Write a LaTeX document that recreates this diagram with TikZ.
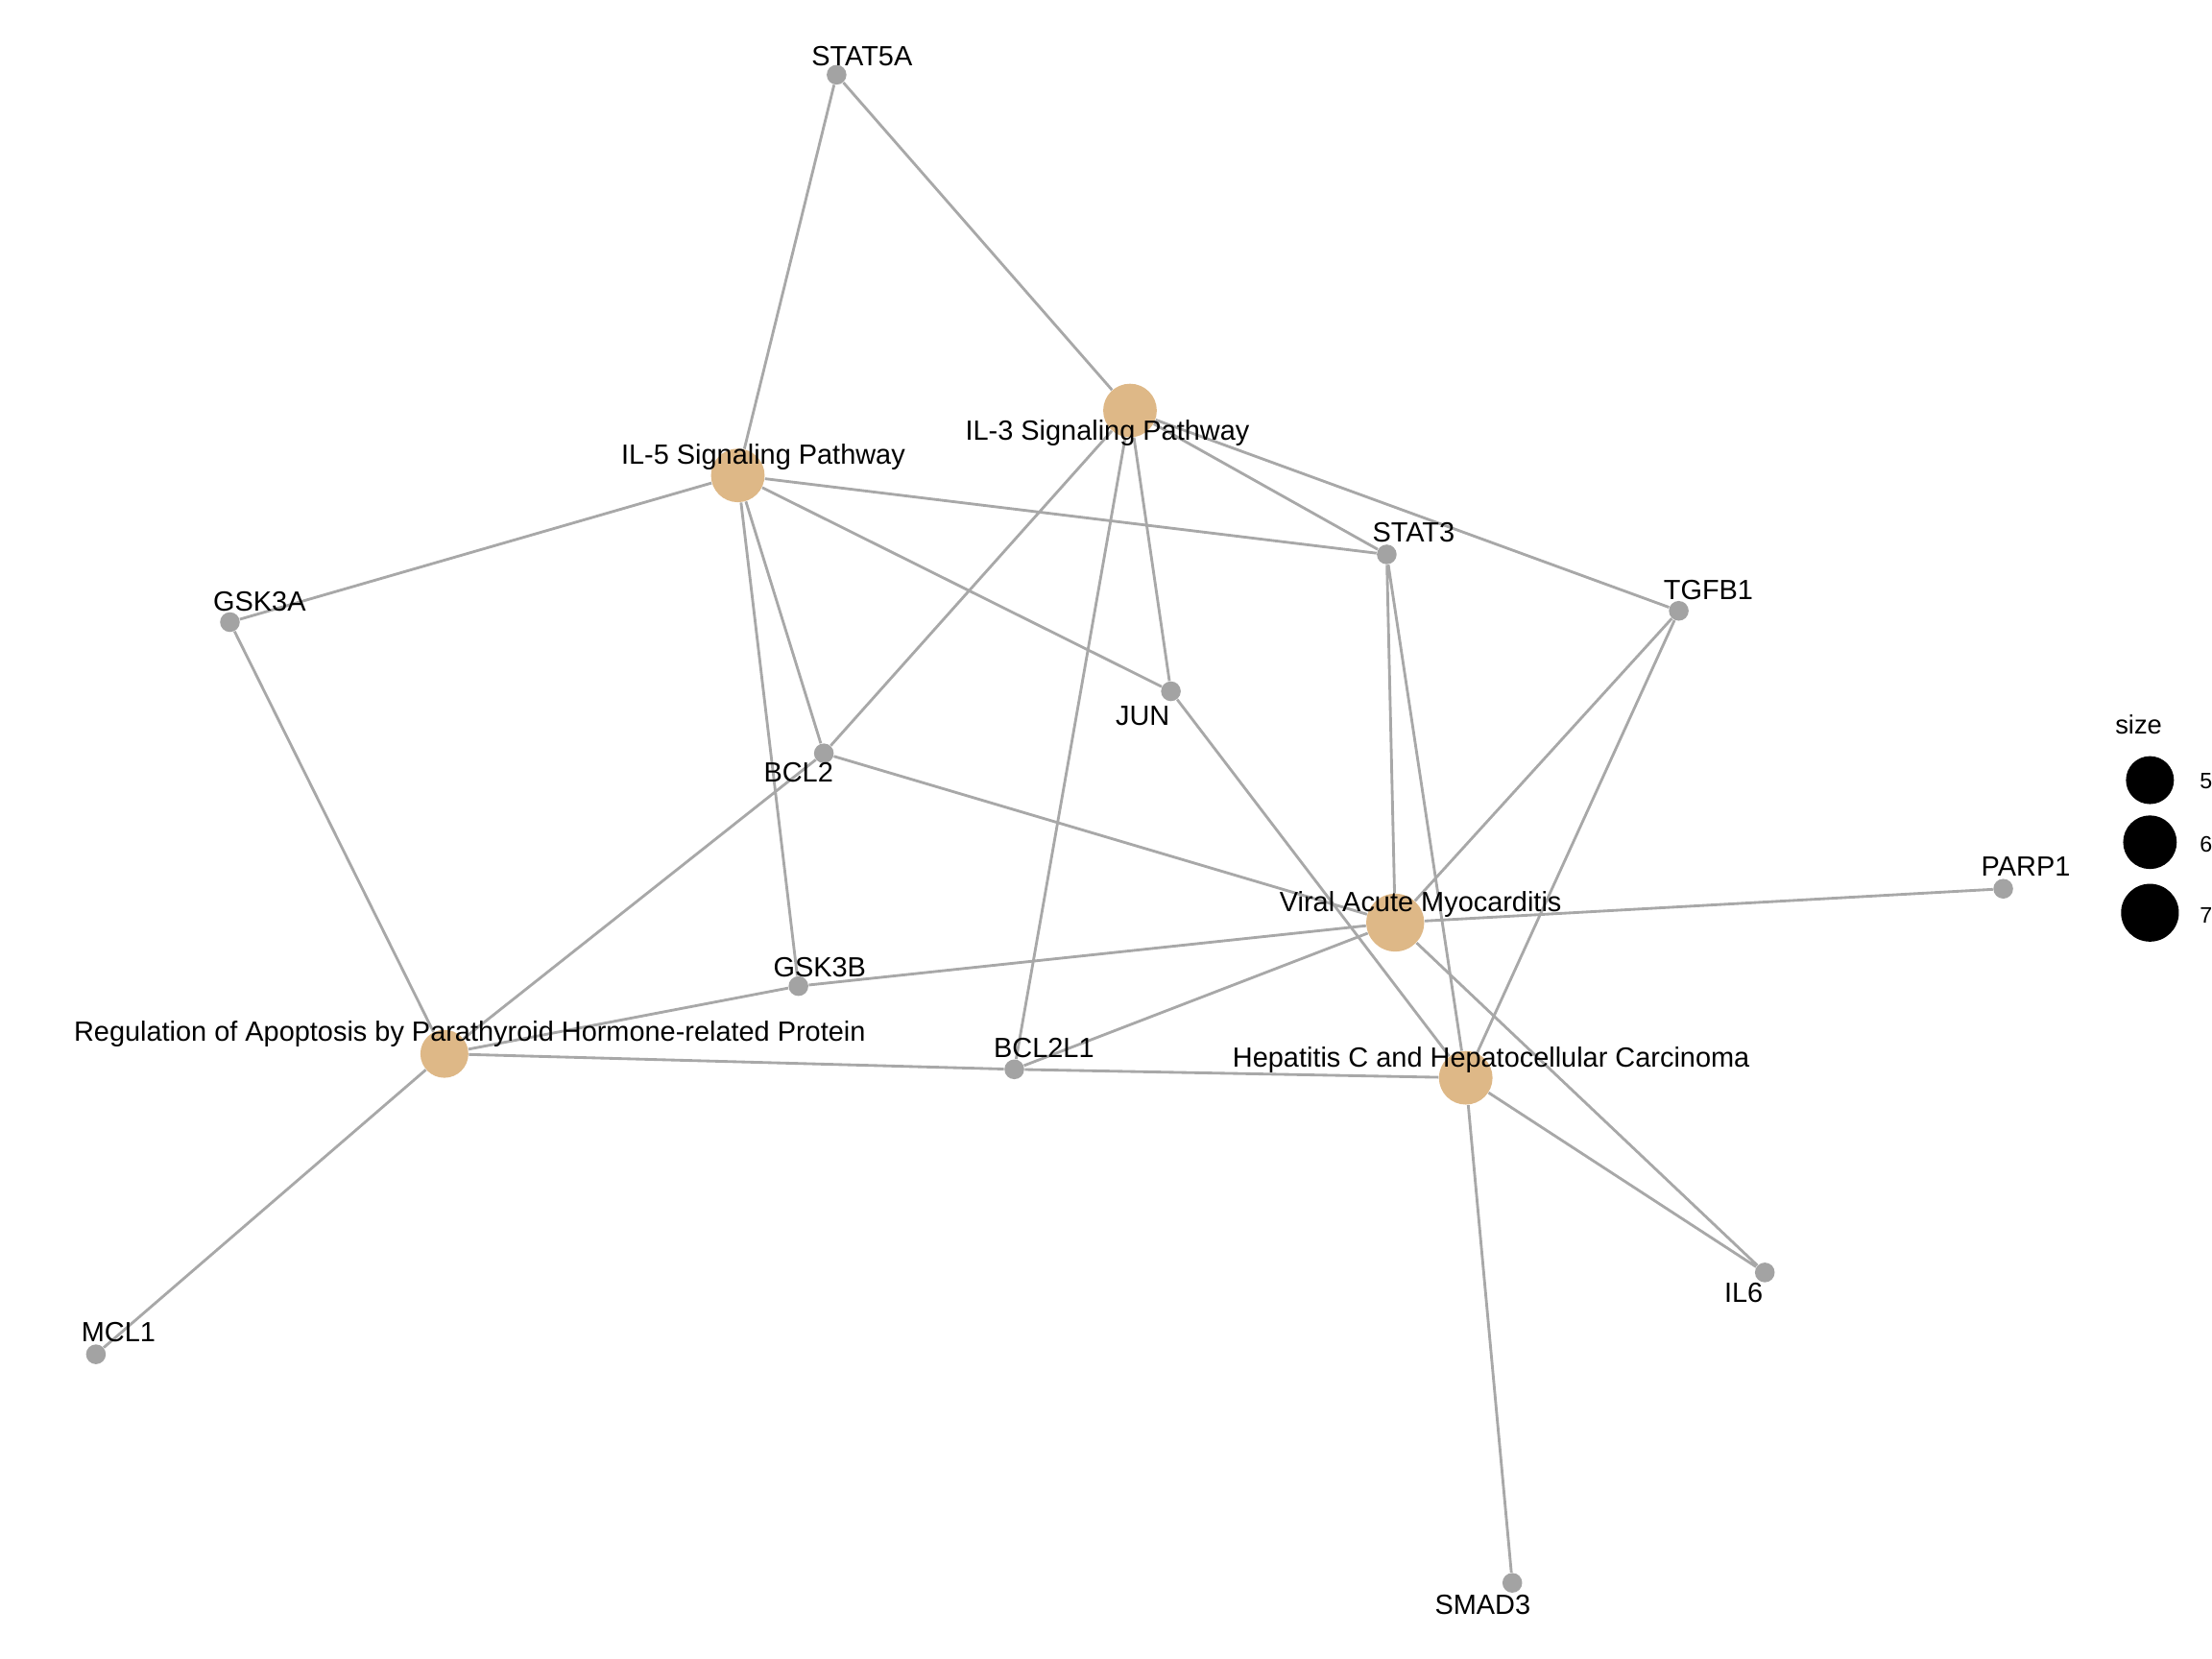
\documentclass[tikz,border=0pt]{standalone}
\usepackage{fontspec}
\setmainfont{Liberation Sans}
\usetikzlibrary{backgrounds}
\definecolor{pathtan}{HTML}{DEB887}
\definecolor{genegrey}{HTML}{A3A3A3}
\definecolor{edgegrey}{HTML}{A8A8A8}

\begin{document}
\begin{tikzpicture}[x=0.02cm,y=-0.02cm]
  \tikzstyle{gene}=[circle,fill=genegrey,inner sep=0pt,minimum size=0.28cm]
  \tikzstyle{size5}=[circle,fill=pathtan,inner sep=0pt,minimum size=0.68cm]
  \tikzstyle{size6}=[size5,minimum size=0.76cm]
  \tikzstyle{size7}=[size5,minimum size=0.82cm]
  \tikzstyle{link}=[draw=edgegrey,line width=1.1pt]
  \tikzstyle{lab}=[inner sep=0pt,text height=0.72em,text depth=0pt,font=\fontsize{11.2}{13}\selectfont]
  \tikzstyle{key}=[circle,fill=black,inner sep=0pt]
  \useasboundingbox (0,0) rectangle (1568,1176);
  % genes
  \node[gene] (STAT5A) at (593,53)   {};
  \node[gene] (STAT3)  at (983,393)  {};
  \node[gene] (TGFB1)  at (1190,433) {};
  \node[gene] (GSK3A)  at (163,441)  {};
  \node[gene] (JUN)    at (830,490)  {};
  \node[gene] (BCL2)   at (584,534)  {};
  \node[gene] (PARP1)  at (1420,630) {};
  \node[gene] (GSK3B)  at (566,699)  {};
  \node[gene] (BCL2L1) at (719,758)  {};
  \node[gene] (IL6)    at (1251,902) {};
  \node[gene] (MCL1)   at (68,960)   {};
  \node[gene] (SMAD3)  at (1072,1122) {};
  % pathways
  \node[size6] (IL3)   at (801,291)  {};
  \node[size6] (IL5)   at (523,337)  {};
  \node[size7] (VAM)   at (989,654)  {};
  \node[size5] (PTHRP) at (315,747)  {};
  \node[size6] (HCV)   at (1039,764) {};
  % edges
  \begin{scope}[on background layer]
    \path[link] (STAT5A) -- (IL5)  (STAT5A) -- (IL3)
      (IL3) -- (BCL2)  (IL3) -- (BCL2L1)  (IL3) -- (JUN)  (IL3) -- (STAT3)  (IL3) -- (TGFB1)
      (IL5) -- (GSK3A)  (IL5) -- (STAT3)  (IL5) -- (JUN)  (IL5) -- (BCL2)  (IL5) -- (GSK3B)
      (GSK3A) -- (PTHRP)  (BCL2) -- (PTHRP)  (GSK3B) -- (PTHRP)  (PTHRP) -- (BCL2L1)  (PTHRP) -- (MCL1)
      (BCL2) -- (VAM)  (STAT3) -- (VAM)  (TGFB1) -- (VAM)  (VAM) -- (PARP1)
      (VAM) -- (GSK3B)  (VAM) -- (BCL2L1)  (VAM) -- (IL6)
      (STAT3) -- (HCV)  (TGFB1) -- (HCV)  (JUN) -- (HCV)  (BCL2L1) -- (HCV)
      (HCV) -- (IL6)  (HCV) -- (SMAD3);
  \end{scope}
  % labels
  \node[lab] (STAT5A-t) at (611,40)   {STAT5A};
  \node[lab] (IL3-t)    at (785,306)  {IL-3 Signaling Pathway};
  \node[lab] (IL5-t)    at (541,323)  {IL-5 Signaling Pathway};
  \node[lab] (STAT3-t)  at (1002,378) {STAT3};
  \node[lab] (TGFB1-t)  at (1211,419) {TGFB1};
  \node[lab] (GSK3A-t)  at (184,427)  {GSK3A};
  \node[lab] (JUN-t)    at (810,508)  {JUN};
  \node[lab] (BCL2-t)   at (566,548)  {BCL2};
  \node[lab] (PARP1-t)  at (1436,615) {PARP1};
  \node[lab] (VAM-t)    at (1007,640) {Viral Acute Myocarditis};
  \node[lab] (GSK3B-t)  at (581,686)  {GSK3B};
  \node[lab] (PTHRP-t)  at (333,732)  {Regulation of Apoptosis by Parathyroid Hormone-related Protein};
  \node[lab] (BCL2L1-t) at (740,743)  {BCL2L1};
  \node[lab] (HCV-t)    at (1057,750) {Hepatitis C and Hepatocellular Carcinoma};
  \node[lab] (IL6-t)    at (1236,917) {IL6};
  \node[lab] (MCL1-t)   at (84,945)   {MCL1};
  \node[lab] (SMAD3-t)  at (1051,1138) {SMAD3};
  % legend
  \node[lab,font=\fontsize{10.6}{12}\selectfont] (size-t) at (1516,514) {size};
  \node[key,minimum size=0.68cm] (key5) at (1524,553) {};
  \node[key,minimum size=0.76cm] (key6) at (1524,597) {};
  \node[key,minimum size=0.82cm] (key7) at (1524,647) {};
  \node[lab,font=\fontsize{9}{11}\selectfont,anchor=west] (key5-t) at (1559,553) {5};
  \node[lab,font=\fontsize{9}{11}\selectfont,anchor=west] (key6-t) at (1559,598) {6};
  \node[lab,font=\fontsize{9}{11}\selectfont,anchor=west] (key7-t) at (1559,648) {7};
\end{tikzpicture}
\end{document}
